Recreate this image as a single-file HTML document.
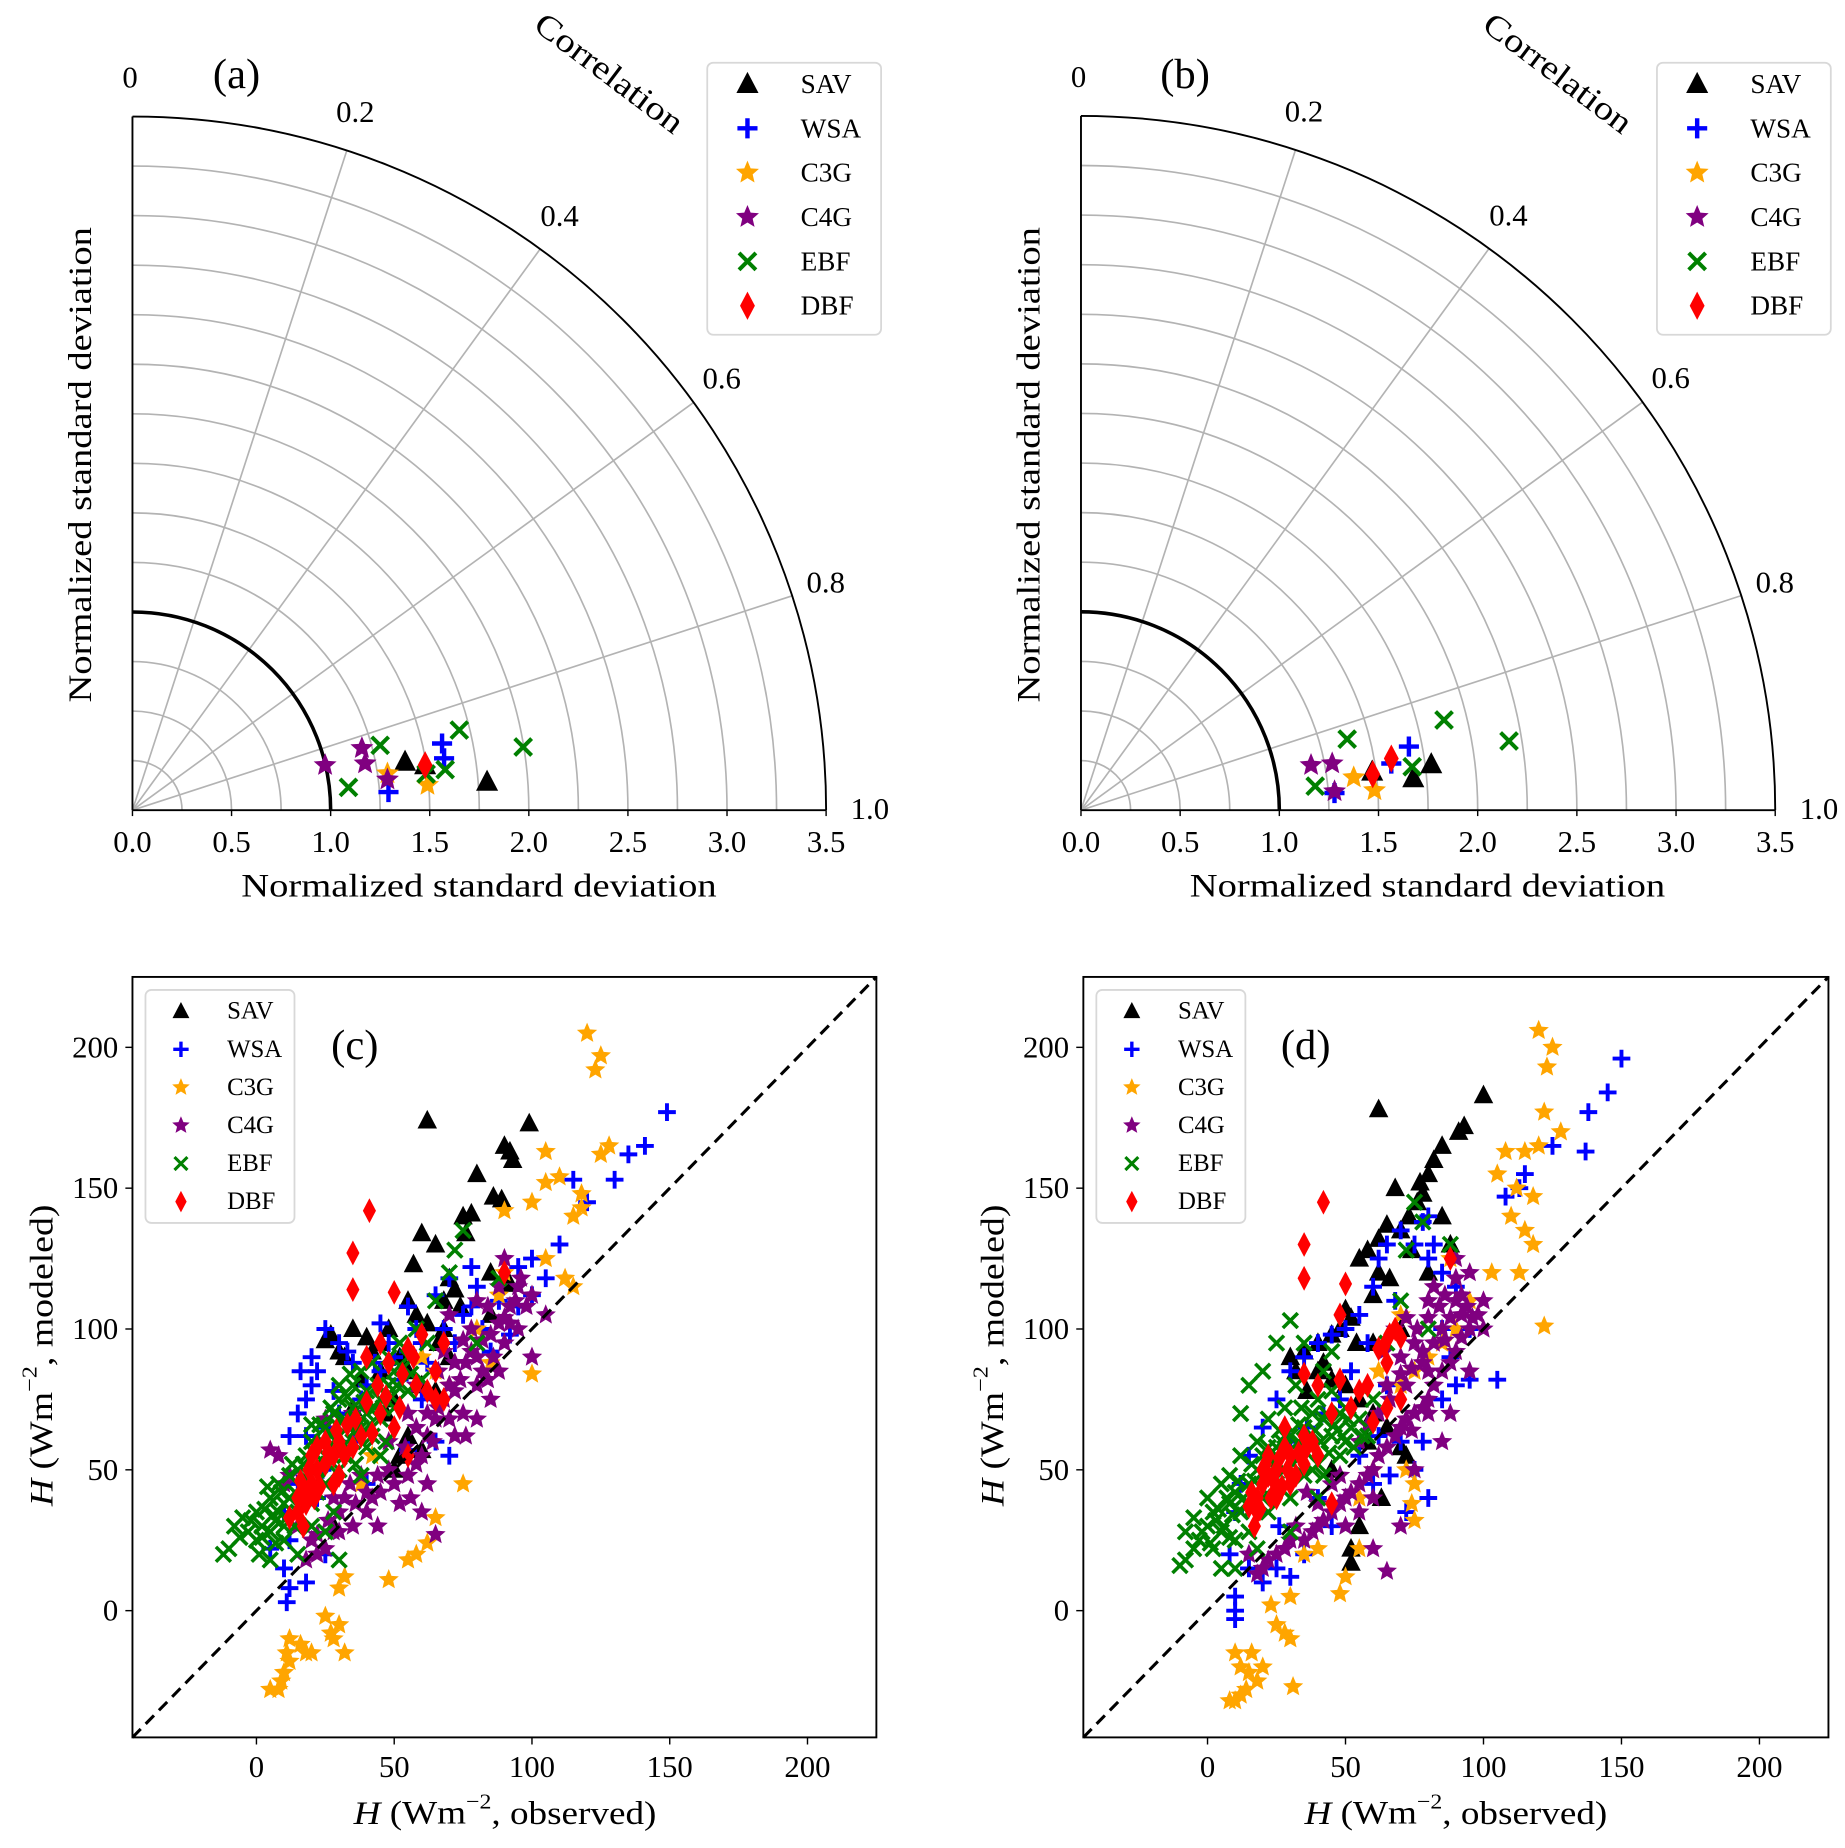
<!DOCTYPE html>
<html><head><meta charset="utf-8"><title>Taylor diagrams and scatter plots of H</title>
<style>
html,body{margin:0;padding:0;background:#fff;}
svg{display:block;font-family:"Liberation Serif","DejaVu Serif",serif;}
</style></head>
<body>
<svg id="fig" xmlns="http://www.w3.org/2000/svg" width="1845" height="1848" viewBox="0 0 1560 1562.5"></svg>
<script>
// ---- Taylor data: [normalized std, correlation] ----
const taylorA_SAV=[[1.397,0.888],[1.795,0.949],[1.494,0.903]];
const taylorA_WSA=[[1.598,0.865],[1.594,0.895],[1.295,0.955]];
const taylorA_C3G=[[1.300,0.909],[1.494,0.946]];
const taylorA_C4G=[[0.998,0.854],[1.199,0.832],[1.197,0.874],[1.296,0.924]];
const taylorA_EBF=[[1.292,0.837],[1.096,0.933],[1.698,0.847],[1.591,0.918],[1.997,0.898],[1.493,0.922]];
const taylorA_DBF=[[1.494,0.903]];
const taylorB_SAV=[[1.781,0.917],[1.683,0.939],[1.481,0.916]];
const taylorB_WSA=[[1.684,0.878],[1.582,0.905],[1.281,0.957]];
const taylorB_C3G=[[1.385,0.924],[1.483,0.957]];
const taylorB_C4G=[[1.182,0.877],[1.288,0.883],[1.282,0.953]];
const taylorB_EBF=[[1.389,0.834],[1.187,0.935],[1.886,0.845],[1.684,0.917],[2.186,0.898]];
const taylorB_DBF=[[1.586,0.895],[1.482,0.922]];
const stdTicks=[0.0,0.5,1.0,1.5,2.0,2.5,3.0,3.5];
const corrLabels=[0,0.2,0.4,0.6,0.8,1.0];
const corrGrid=[0.2,0.4,0.6,0.8];
// ---- Scatter data: [observed, modeled] ----
const scC_SAV=[[62,174],[99,173],[90,165],[93,160],[92,163],[80,155],[86,147],[89,146],[75,140],[78,141],[60,134],[65,130],[57,123],[76,134],[70,118],[72,114],[68,110],[85,120],[92,116],[55,110],[48,100],[45,95],[40,97],[25,96],[27,98],[30,92],[32,90],[45,85],[55,85],[60,80],[65,78],[50,75],[35,72],[55,62],[60,57],[50,50],[52,55],[28,30],[70,90],[85,105],[62,102],[35,100],[42,92],[58,105],[66,95],[74,108],[52,90],[38,82],[47,70],[68,100]];
const scC_WSA=[[149,177],[141,165],[135,162],[130,153],[115,153],[120,145],[110,130],[100,125],[105,118],[95,122],[100,112],[88,110],[80,115],[75,105],[68,100],[60,95],[55,92],[50,90],[45,85],[40,80],[35,88],[30,95],[25,100],[20,90],[20,80],[18,75],[15,70],[12,62],[25,65],[28,55],[15,45],[10,35],[12,25],[10,15],[12,8],[11,3],[18,10],[25,20],[40,45],[65,60],[70,55],[55,57],[85,92],[92,98],[65,112],[78,122],[60,75],[35,60],[22,40],[5,22],[22,85],[28,78],[33,92],[38,75],[43,88],[48,95],[52,82],[58,100],[62,88],[72,95],[78,108],[82,100],[18,62],[24,50],[30,70],[45,102],[55,108],[70,118],[95,108],[16,85]];
const scC_C3G=[[120,205],[125,197],[123,192],[128,165],[125,162],[118,148],[115,140],[118,143],[110,154],[105,163],[105,152],[100,145],[90,142],[105,125],[112,118],[115,115],[90,120],[100,84],[75,45],[65,33],[62,24],[58,20],[55,18],[48,11],[32,12],[30,8],[30,-5],[28,-10],[27,-8],[32,-15],[25,-2],[12,-10],[11,-15],[12,-18],[10,-22],[9,-25],[8,-28],[5,-28],[18,-15],[16,-12],[20,-15],[70,80],[65,85],[85,88],[42,55],[38,45],[80,100],[88,112],[60,90]];
const scC_C4G=[[90,125],[95,115],[92,108],[88,102],[85,98],[95,100],[98,108],[100,112],[80,90],[82,85],[78,92],[75,96],[72,88],[70,80],[68,75],[65,68],[62,62],[60,55],[58,52],[55,48],[50,45],[45,42],[42,40],[40,35],[35,30],[30,35],[28,28],[25,22],[22,20],[18,18],[20,25],[15,30],[10,45],[8,55],[5,57],[12,48],[25,68],[35,70],[55,70],[65,27],[60,35],[72,62],[80,68],[85,75],[90,95],[100,90],[105,105],[70,105],[75,70],[48,60],[52,38],[38,48],[32,40],[44,30],[58,80],[66,85],[80,110],[88,115],[78,100],[84,108],[74,82],[68,92],[76,88],[82,96],[86,90],[92,102],[72,78],[66,72],[62,70],[70,68],[80,80],[88,85],[94,110],[64,60],[58,65],[54,58],[48,50],[44,48],[40,42],[36,38],[30,28],[26,32],[22,27],[28,40],[34,45],[56,40],[62,45],[76,62],[84,82],[90,104],[96,118]];
const scC_EBF=[[-10,22],[-8,30],[-5,33],[-3,28],[0,35],[0,25],[2,30],[5,40],[5,28],[8,35],[8,45],[10,38],[10,30],[12,48],[12,40],[15,50],[15,35],[15,20],[18,45],[18,55],[20,38],[20,60],[22,50],[22,42],[25,65],[25,55],[25,45],[28,70],[28,58],[28,35],[30,75],[30,62],[30,50],[32,68],[32,55],[35,80],[35,60],[35,72],[38,65],[38,85],[40,78],[40,70],[42,62],[42,88],[45,75],[45,68],[48,80],[48,90],[50,72],[50,85],[52,95],[55,78],[55,90],[58,100],[60,82],[62,95],[65,110],[70,120],[72,128],[75,135],[80,95],[88,118],[20,30],[10,25],[25,28],[30,18],[5,18],[45,55],[38,48],[-12,20],[3,36],[7,32],[14,42],[17,52],[23,47],[27,62],[33,58],[37,66],[43,72],[4,44],[6,34],[9,42],[11,33],[13,52],[16,44],[19,48],[21,56],[24,60],[26,52],[29,66],[31,58],[33,76],[36,64],[39,74],[41,66],[44,80],[46,72],[49,76],[51,80],[53,86],[56,84],[34,84],[30,80],[27,72],[23,66],[20,66],[17,40],[14,30],[2,26],[-2,32],[-6,26],[1,20],[7,24],[47,60],[40,58],[36,52]];
const scC_DBF=[[41,142],[35,127],[35,114],[50,113],[45,95],[40,90],[48,88],[55,93],[60,98],[65,85],[68,75],[58,80],[52,72],[50,65],[45,70],[42,63],[38,62],[35,58],[32,55],[30,60],[28,55],[25,52],[22,50],[20,45],[18,42],[15,40],[15,35],[18,38],[20,55],[25,60],[30,48],[22,58],[28,45],[55,55],[65,75],[90,120],[68,95],[62,78],[12,33],[17,30],[16,46],[19,50],[21,40],[23,44],[26,56],[29,64],[33,66],[36,68],[40,74],[44,80],[47,76],[53,84],[57,90]];
const scD_SAV=[[62,178],[100,183],[93,172],[91,170],[85,165],[82,160],[80,155],[77,152],[78,148],[76,145],[73,140],[70,135],[65,137],[62,132],[58,128],[55,125],[62,120],[60,112],[50,107],[52,104],[48,100],[45,98],[40,95],[35,92],[30,90],[32,85],[40,85],[45,82],[50,80],[55,75],[60,70],[65,65],[70,58],[72,55],[63,40],[55,30],[52,22],[52,17],[45,50],[58,60],[88,130],[85,140],[80,120],[68,150],[74,128],[66,118],[54,95],[42,88],[36,78],[60,95],[70,100]];
const scD_WSA=[[150,196],[145,184],[138,177],[137,163],[125,165],[115,155],[113,150],[108,147],[105,82],[95,82],[90,80],[85,75],[88,90],[95,100],[90,115],[85,120],[80,125],[75,130],[80,140],[70,135],[65,130],[62,125],[60,115],[55,105],[50,100],[45,98],[40,95],[35,90],[30,85],[25,75],[20,65],[15,55],[12,45],[10,35],[8,20],[10,5],[10,-3],[10,0],[15,15],[20,10],[25,15],[30,12],[65,80],[70,60],[75,50],[80,40],[72,35],[60,45],[55,55],[45,30],[40,40],[35,20],[78,138],[82,130],[68,110],[58,95],[52,85],[48,75],[42,70],[36,65],[30,60],[22,50],[18,35],[26,30],[62,62],[66,48],[78,60],[85,100]];
const scD_C3G=[[120,206],[125,200],[123,193],[128,170],[122,177],[120,165],[118,147],[115,163],[112,150],[108,163],[105,155],[110,140],[115,135],[118,130],[113,120],[122,101],[103,120],[95,110],[90,100],[85,95],[80,90],[75,85],[70,80],[72,50],[75,45],[74,38],[75,32],[55,22],[50,12],[48,6],[31,-27],[30,-10],[28,-8],[25,-5],[23,2],[20,-20],[18,-25],[14,-28],[12,-30],[10,-32],[8,-32],[10,-15],[12,-20],[15,-22],[16,-15],[30,5],[35,20],[40,22],[55,40],[60,50],[88,125],[70,105],[62,85]];
const scD_C4G=[[90,125],[95,120],[100,110],[98,105],[95,100],[92,97],[90,92],[88,88],[85,85],[82,80],[80,75],[78,72],[75,70],[72,68],[70,65],[68,62],[65,58],[62,55],[60,50],[58,48],[55,45],[52,42],[50,40],[48,38],[45,35],[42,32],[40,30],[38,28],[35,25],[30,25],[28,22],[25,20],[22,18],[20,15],[18,13],[15,20],[65,14],[70,30],[60,22],[80,85],[85,100],[75,95],[70,90],[65,80],[90,110],[100,100],[80,110],[85,60],[75,50],[50,30],[55,60],[45,45],[88,70],[95,85],[82,95],[78,88],[72,80],[92,105],[76,100],[80,104],[84,108],[86,96],[88,104],[92,112],[94,108],[96,104],[78,92],[74,86],[70,84],[66,75],[62,70],[58,66],[64,92],[68,100],[72,104],[82,115],[86,112],[90,118],[74,64],[80,70],[60,40],[55,35],[48,48],[40,38],[36,42],[32,30]];
const scD_EBF=[[-10,16],[-8,18],[-8,28],[-5,22],[-5,33],[-3,25],[0,30],[0,40],[2,35],[2,22],[5,45],[5,28],[8,38],[8,48],[10,42],[10,25],[10,15],[12,55],[12,35],[15,45],[15,28],[18,50],[18,60],[20,40],[20,55],[22,68],[22,35],[25,58],[25,45],[28,72],[28,50],[30,62],[30,40],[32,80],[32,55],[35,65],[35,95],[35,48],[38,70],[38,58],[40,75],[40,52],[42,68],[42,85],[45,62],[45,78],[48,70],[50,60],[50,72],[52,65],[55,68],[58,62],[60,75],[65,95],[70,110],[72,128],[75,145],[78,138],[80,100],[88,130],[30,103],[25,95],[20,85],[15,80],[12,70],[45,92],[40,40],[30,28],[18,22],[5,15],[3,32],[7,40],[14,38],[17,46],[23,52],[27,60],[33,66],[37,62],[43,70],[47,64],[4,36],[6,30],[9,34],[11,46],[13,40],[16,52],[19,44],[21,48],[24,54],[26,64],[29,56],[31,52],[33,60],[36,56],[39,64],[41,60],[44,56],[46,66],[49,62],[51,68],[53,58],[56,62],[34,72],[28,62],[22,58],[16,36],[8,26],[-2,28],[1,24],[38,50],[42,48],[48,55]];
const scD_DBF=[[42,145],[35,130],[35,118],[50,116],[48,105],[68,100],[70,97],[65,88],[62,93],[70,75],[65,72],[60,67],[55,78],[52,72],[48,82],[45,70],[40,80],[35,84],[38,60],[35,62],[30,55],[28,58],[25,50],[22,48],[20,45],[18,40],[18,35],[17,30],[15,37],[22,55],[25,40],[30,45],[35,52],[40,55],[45,38],[88,125],[58,80],[20,50],[28,65],[16,42],[19,36],[21,52],[23,40],[24,46],[26,54],[27,44],[29,50],[32,48],[33,56],[36,58],[66,98],[64,94]];
const scTicks=[0,50,100,150,200];
const seriesNames=["SAV","WSA","C3G","C4G","EBF","DBF"];

const NS="http://www.w3.org/2000/svg";
const svg=document.getElementById('fig');
const COL={SAV:"#000000",WSA:"#0000ff",C3G:"#ffa500",C4G:"#800080",EBF:"#008000",DBF:"#ff0000"};
function mk(tag,attrs,parent){const e=document.createElementNS(NS,tag);for(const k in attrs)e.setAttribute(k,attrs[k]);(parent||svg).appendChild(e);return e;}
function txt(x,y,s,size,parent,extra){const t=mk('text',Object.assign({x:x,y:y,'font-size':size,'text-anchor':'middle','dominant-baseline':'central',fill:'#000'},extra||{}),parent);t.textContent=s;return t;}
function marker(g,name,x,y,sz){
  const c=COL[name];let e;
  if(name==="SAV"){e=mk('polygon',{points:`${x},${y-sz*0.6} ${x-sz*0.55},${y+sz*0.45} ${x+sz*0.55},${y+sz*0.45}`,fill:c},g);}
  else if(name==="WSA"){e=mk('path',{d:`M${x-sz*0.5},${y}H${x+sz*0.5}M${x},${y-sz*0.5}V${y+sz*0.5}`,stroke:c,'stroke-width':sz*0.22,fill:'none'},g);}
  else if(name==="C3G"||name==="C4G"){let p=[];for(let i=0;i<10;i++){const r=i%2?sz*0.27:sz*0.6;const a=-Math.PI/2+i*Math.PI/5;p.push((x+r*Math.cos(a)).toFixed(1)+","+(y+r*Math.sin(a)).toFixed(1));}e=mk('polygon',{points:p.join(' '),fill:c},g);}
  else if(name==="EBF"){const h=sz*0.42;e=mk('path',{d:`M${x-h},${y-h}L${x+h},${y+h}M${x-h},${y+h}L${x+h},${y-h}`,stroke:c,'stroke-width':sz*0.2,fill:'none'},g);}
  else {e=mk('polygon',{points:`${x},${y-sz*0.7} ${x+sz*0.37},${y} ${x},${y+sz*0.7} ${x-sz*0.37},${y}`,fill:c},g);}
  return e;
}
function legend(x,y,w,h,rowGap,mx,tx,fs,msz,pname){
  const g=mk('g',{});
  
  
  mk('rect',{x:x,y:y,width:w,height:h,rx:5,fill:'#fff','fill-opacity':0.85,stroke:'#d8d8d8','stroke-width':1.5},g);
  seriesNames.forEach((n,i)=>{
    const eg=mk('g',{},g);
    
    
    const cy=y+18+i*rowGap;
    marker(eg,n,mx,cy,msz);
    txt(tx,cy,n,fs,eg,{'text-anchor':'start'});
  });
}
function taylor(ox,oy,R,data,pname,letter,legX){
  const g=mk('g',{});
  
  
  const s=R/3.5;
  for(let k=1;k<14;k++){const r=k*0.25*s;if(k===4)continue;mk('path',{d:`M${ox},${oy-r}A${r},${r} 0 0 1 ${ox+r},${oy}`,fill:'none',stroke:'#b3b3b3','stroke-width':1.4},g);}
  corrGrid.forEach(c=>{const a=(1-c)*Math.PI/2;mk('line',{x1:ox,y1:oy,x2:ox+R*Math.cos(a),y2:oy-R*Math.sin(a),stroke:'#b3b3b3','stroke-width':1.4},g);});
  const ref=mk('path',{d:`M${ox},${oy-s}A${s},${s} 0 0 1 ${ox+s},${oy}`,fill:'none',stroke:'#000','stroke-width':3},g);
  
  
  mk('path',{d:`M${ox},${oy-R}A${R},${R} 0 0 1 ${ox+R},${oy}`,fill:'none',stroke:'#000','stroke-width':1.6},g);
  mk('line',{x1:ox,y1:oy-R,x2:ox,y2:oy,stroke:'#000','stroke-width':1.6},g);
  mk('line',{x1:ox,y1:oy,x2:ox+R,y2:oy,stroke:'#000','stroke-width':1.6},g);
  stdTicks.forEach(v=>{const x=ox+v*s;mk('line',{x1:x,y1:oy,x2:x,y2:oy+5,stroke:'#000','stroke-width':1.2},g);const t=txt(x,oy+27,v.toFixed(1),26,g);});
  corrLabels.forEach(c=>{const a=(1-c)*Math.PI/2;const r=R+33;const t=txt(ox+r*Math.cos(a)-(c===0?2:(c===1?-4:3)),oy-r*Math.sin(a)-(c===0?0:1),c===0?'0':c.toFixed(1),26,g);});
  const ct=txt(ox+403,62,'Correlation',28,g,{transform:`rotate(37 ${ox+403} 62)`,textLength:150,lengthAdjust:'spacingAndGlyphs'});
  
  const xt=txt(ox+293,749,'Normalized standard deviation',28,g,{textLength:402,lengthAdjust:'spacingAndGlyphs'});
  
  const yt=txt(ox-44,393,'Normalized standard deviation',28,g,{transform:`rotate(-90 ${ox-44} 393)`,textLength:402,lengthAdjust:'spacingAndGlyphs'});
  
  const pl=txt(ox+88,63,'('+letter+')',36,g);
  
  seriesNames.forEach((n,i)=>{
    const sg=mk('g',{},g);
    
    
    data[i].forEach(p=>{const a=(1-p[1])*Math.PI/2;const m=marker(sg,n,ox+p[0]*s*Math.cos(a),oy-p[0]*s*Math.sin(a),17);
      
      });
  });
  legend(legX,53,147,230,37.5,legX+34,legX+79,23,17,pname);
}
function scatter(x0,y0,w,h,data,pname,letter){
  const g=mk('g',{});
  
  
  const lo=-45,hi=225;
  const X=v=>x0+(v-lo)/(hi-lo)*w, Y=v=>y0+h-(v-lo)/(hi-lo)*h;
  const cid='clip'+pname;
  const cp=mk('clipPath',{id:cid},g);mk('rect',{x:x0,y:y0,width:w,height:h},cp);
  const pg=mk('g',{'clip-path':`url(#${cid})`},g);
  seriesNames.forEach((n,i)=>{
    const sg=mk('g',{},pg);
    
    
    data[i].forEach(p=>{const m=marker(sg,n,X(p[0]),Y(p[1]),15);
      
      });
  });
  const dl=mk('line',{x1:X(lo),y1:Y(lo),x2:X(hi),y2:Y(hi),stroke:'#000','stroke-width':2.6,'stroke-dasharray':'10,6'},g);
  
  mk('rect',{x:x0,y:y0,width:w,height:h,fill:'none',stroke:'#000','stroke-width':1.6},g);
  scTicks.forEach(v=>{
    mk('line',{x1:X(v),y1:y0+h,x2:X(v),y2:y0+h+6,stroke:'#000','stroke-width':1.2},g);
    const tx=txt(X(v),y0+h+25,String(v),26,g);
    mk('line',{x1:x0-6,y1:Y(v),x2:x0,y2:Y(v),stroke:'#000','stroke-width':1.2},g);
    const ty=txt(x0-12,Y(v),String(v),26,g,{'text-anchor':'end'});
  });
  const xt=mk('text',{x:x0+315,y:y0+h+64,'font-size':28,'text-anchor':'middle','dominant-baseline':'central',textLength:256,lengthAdjust:'spacingAndGlyphs'},g);
  xt.innerHTML='<tspan font-style="italic">H</tspan> (Wm<tspan dy="-10" font-size="18">−2</tspan><tspan dy="10">, observed)</tspan>';
  
  const yt=mk('text',{x:x0-77,y:y0+320,'font-size':28,'text-anchor':'middle','dominant-baseline':'central',textLength:255,lengthAdjust:'spacingAndGlyphs',transform:`rotate(-90 ${x0-77} ${y0+320})`},g);
  yt.innerHTML='<tspan font-style="italic">H</tspan> (Wm<tspan dy="-10" font-size="18">−2</tspan><tspan dy="10">, modeled)</tspan>';
  
  const pl=txt(x0+188,y0+58,'('+letter+')',36,g);
  
  legend(x0+11,y0+11,126,197,32.2,x0+41,x0+80,21,13,pname);
}
taylor(112,685,586.5,[taylorA_SAV,taylorA_WSA,taylorA_C3G,taylorA_C4G,taylorA_EBF,taylorA_DBF],'a','a',598);
taylor(914,685,587,[taylorB_SAV,taylorB_WSA,taylorB_C3G,taylorB_C4G,taylorB_EBF,taylorB_DBF],'b','b',1401);
scatter(112,826,629,643,[scC_SAV,scC_WSA,scC_C3G,scC_C4G,scC_EBF,scC_DBF],'c','c');
scatter(916,826,630,643,[scD_SAV,scD_WSA,scD_C3G,scD_C4G,scD_EBF,scD_DBF],'d','d');
</script>
</body></html>
